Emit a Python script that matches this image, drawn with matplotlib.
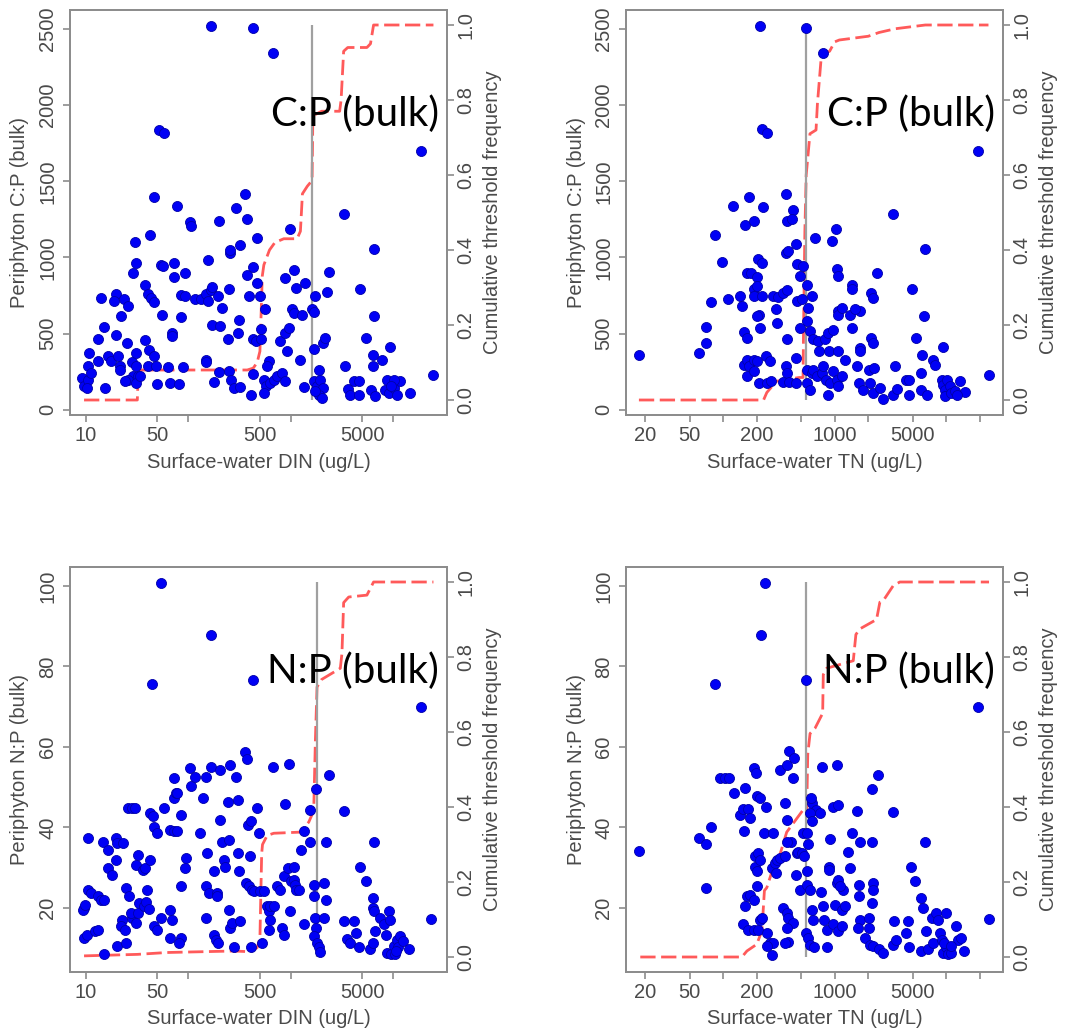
import matplotlib
matplotlib.use("Agg")
import matplotlib.pyplot as plt
from matplotlib.ticker import NullLocator

plt.rcParams['font.family'] = ['Liberation Sans', 'DejaVu Sans']

# ---- Data: DIN vs C:P (top left) ----
din_cp_x = [165, 430, 673, 52, 58, 18500, 24700, 46, 78, 105,
            106, 200, 290, 355, 376, 465, 975, 42, 30, 31,
            29, 38, 40, 43, 46, 54, 56, 72, 72, 93,
            84, 93, 55, 85, 69, 70, 38, 41, 46, 40,
            48, 50, 66, 82, 89, 64, 14, 19.8, 19, 23.6,
            25.5, 22, 19.8, 15.1, 13, 25, 10.8, 13, 16.5, 17.5,
            20.6, 21.5, 21.5, 28, 30.6, 31, 29, 32.5, 26, 24,
            31, 9.2, 9.6, 10.4, 10.6, 11.2, 10.2, 15.3, 34, 155,
            116, 132, 150, 165, 172, 155, 197, 214, 248, 258,
            254, 318, 315, 308, 376, 390, 430, 470, 430, 455,
            515, 507, 500, 560, 245, 172, 206, 150, 150, 200,
            178, 248, 260, 278, 323, 405, 430, 610, 588, 546,
            567, 546, 625, 683, 736, 822, 887, 782, 870, 1070,
            1120, 880, 955, 1030, 1070, 1290, 1390, 1615, 1675, 1740,
            2259, 2350, 2060, 2180, 921, 1242, 1360, 1675, 1880, 1675,
            1805, 1946, 2060, 1900, 2000, 1740, 3282, 3350, 3590, 3811,
            4107, 4600, 4600, 4769, 5400, 6431, 6540, 6300, 6350, 7750,
            6100, 6700, 9345, 8672, 8350, 9000, 10070, 10851, 11693, 14600,
            10200, 9500]
din_cp_y = [2522, 2507, 2340, 1838, 1820, 1700, 226, 1400, 1338, 1232,
            1206, 1239, 1325, 1414, 1250, 1129, 1189, 1147, 1101, 965,
            899, 816, 757, 735, 706, 947, 943, 965, 870, 895,
            750, 746, 625, 607, 504, 487, 456, 395, 351, 290,
            285, 169, 175, 169, 279, 279, 735, 761, 713, 728,
            684, 614, 493, 542, 461, 439, 373, 318, 351, 322,
            351, 285, 259, 314, 373, 290, 219, 219, 197, 191,
            175, 208, 154, 197, 285, 241, 143, 143, 219, 980,
            724, 724, 757, 785, 807, 713, 746, 669, 790, 1031,
            1048, 1081, 586, 504, 882, 746, 936, 833, 461, 450,
            531, 461, 746, 664, 467, 559, 552, 329, 310, 246,
            182, 257, 197, 143, 149, 99, 237, 318, 285, 197,
            154, 110, 175, 197, 219, 241, 186, 454, 866, 917,
            800, 504, 537, 658, 636, 625, 833, 658, 640, 746,
            772, 904, 439, 471, 384, 329, 149, 399, 263, 186,
            154, 197, 143, 99, 77, 121, 1283, 285, 136, 99,
            186, 186, 99, 790, 471, 1057, 614, 362, 285, 329,
            132, 88, 412, 197, 132, 110, 143, 99, 186, 110,
            197, 154]
din_cp_cdf_x = [9.6, 31.8, 32.5, 376, 430, 470, 500, 515, 527, 546, 620, 700,
                855, 1153, 1242, 1300, 1450, 1555, 1615, 1640, 1700, 2000,
                3000, 3100, 3282, 3600, 5538, 6000, 6431, 24700]
din_cp_cdf_y = [0, 0, 0.08, 0.08, 0.085, 0.1, 0.13, 0.24, 0.33, 0.36, 0.40, 0.42,
                0.43, 0.43, 0.45, 0.55, 0.57, 0.58, 0.59, 0.74, 0.76, 0.77,
                0.77, 0.80, 0.93, 0.94, 0.94, 0.95, 1.0, 1.0]

# ---- Data: TN vs C:P (top right) ----
tn_cp_x = [214, 550, 780, 222, 246, 19500, 24270, 17.7, 60, 70,
           70, 78, 85, 98, 110, 123, 140, 148, 153, 165,
           157, 170, 190, 227, 165, 177, 200, 205, 222, 187,
           200, 187, 222, 210, 200, 214, 152, 163, 170, 187,
           200, 165, 187, 210, 243, 263, 246, 267, 282, 297,
           306, 312, 347, 371, 365, 384, 375, 365, 375, 371,
           420, 418, 368, 450, 445, 347, 393, 445, 463, 489,
           520, 456, 505, 561, 622, 580, 568, 600, 489, 643,
           713, 819, 720, 883, 877, 972, 561, 620, 561, 600,
           643, 689, 762, 791, 834, 865, 907, 972, 1041, 1077,
           1155, 1077, 1237, 670, 940, 1020, 1041, 1060, 1060, 1077,
           1155, 1420, 1440, 1371, 1420, 1684, 1684, 1684, 1520, 2100,
           2217, 2400, 2130, 2217, 2040, 2250, 1600, 1650, 1804, 2070,
           2217, 2543, 2724, 3349, 3460, 3650, 3349, 4408, 4600, 4650,
           4900, 5418, 6430, 6350, 6050, 5900, 5900, 6800, 7640, 8000,
           9391, 9100, 9391, 9700, 10200, 10775, 9850, 11150, 11900, 13400,
           14700, 12500]
tn_cp_y = [2522, 2507, 2340, 1842, 1820, 1700, 226, 357, 373, 439,
           544, 708, 1147, 971, 724, 1336, 746, 684, 509, 471,
           1211, 1400, 1239, 1334, 899, 895, 873, 987, 965, 790,
           811, 746, 746, 625, 614, 537, 296, 329, 285, 329,
           318, 219, 252, 175, 351, 318, 175, 186, 746, 662,
           570, 741, 768, 783, 1031, 1042, 467, 285, 241, 1239,
           1311, 1250, 1414, 1090, 340, 180, 180, 175, 954, 877,
           943, 713, 724, 822, 746, 669, 581, 515, 537, 461,
           450, 461, 384, 384, 504, 520, 263, 241, 175, 132,
           263, 219, 241, 285, 197, 99, 175, 252, 197, 154,
           219, 384, 329, 1129, 1107, 1184, 921, 877, 647, 625,
           669, 822, 790, 625, 537, 406, 384, 647, 658, 768,
           735, 899, 471, 439, 263, 274, 285, 175, 132, 175,
           110, 143, 70, 99, 285, 136, 1283, 197, 197, 99,
           790, 471, 1057, 614, 362, 241, 127, 99, 329, 296,
           412, 197, 164, 132, 197, 154, 88, 110, 121, 186,
           114, 99]
tn_cp_cdf_x = [17.5, 230, 246, 300, 480, 520, 525, 540, 555, 600, 680, 700,
               760, 900, 1000, 1100, 2000, 2500, 3500, 6500, 24000]
tn_cp_cdf_y = [0, 0, 0.02, 0.05, 0.06, 0.06, 0.18, 0.45, 0.6, 0.71, 0.72, 0.79,
               0.92, 0.93, 0.955, 0.96, 0.97, 0.98, 0.99, 1.0, 1.0]

# ---- Data: DIN vs N:P (bottom left) ----
din_np_x = [54, 165, 44, 430, 18500, 23500, 9.5, 9.3, 9.8, 10.5,
            9.6, 10.2, 10.5, 11.2, 12.3, 13, 13.2, 14, 15.1, 15.1,
            14.8, 16.3, 16.5, 18.1, 19.6, 20.3, 23, 19.8, 20.3, 22.6,
            21.9, 24, 24.5, 26.4, 24.8, 25.5, 28, 30.5, 28, 30.6,
            27.4, 30.6, 32.4, 32, 33, 37, 39, 41.6, 39.9, 36,
            38, 42, 42, 45, 46.5, 50, 58, 46, 50, 54,
            66, 70, 66, 72.5, 75, 78, 73, 67, 72.5, 78,
            84, 84, 81, 85, 92, 94, 105, 106, 116, 131,
            139, 150, 152, 148, 150, 158, 165, 178, 185, 196,
            178, 190, 192, 203, 206, 214, 223, 226, 245, 248,
            250, 258, 278, 258, 267, 289, 308, 308, 312, 323,
            357, 376, 380, 398, 410, 365, 390, 420, 436, 470,
            405, 485, 500, 527, 546, 588, 610, 634, 610, 625,
            683, 673, 736, 793, 822, 855, 855, 870, 933, 965,
            993, 1010, 1070, 1110, 1130, 1215, 1070, 1265, 1350, 1350,
            1555, 1555, 1780, 1675, 1675, 1740, 1780, 1675, 1805, 1880,
            1946, 2100, 2100, 2210, 2210, 2350, 3282, 3282, 3537, 3811,
            4107, 4370, 4600, 4769, 5400, 5968, 6350, 6431, 6300, 6300,
            6540, 6700, 7468, 8047, 8450, 9000, 9345, 8672, 9500, 10400,
            10070, 10851, 11693, 11100, 10700, 12600, 14400]
din_np_y = [100.7, 87.8, 75.6, 76.6, 70, 17.3, 20, 19.6, 20.8, 37.4,
            12.6, 13.4, 24.5, 23.7, 14.2, 14.5, 23.1, 22.1, 22.1, 8.5,
            36.3, 34.5, 29.9, 28.3, 37.4, 36.1, 36.1, 32, 10.5, 17.1,
            15.5, 14.6, 25, 22.9, 11.3, 44.8, 44.8, 44.8, 17.5, 16.3,
            18.8, 30.7, 33.2, 18.8, 21.2, 20.4, 21.4, 19.8, 24.5, 29.5,
            29.9, 32, 43.6, 42.8, 40.2, 38.6, 44.8, 15.5, 14.6, 17.5,
            19.6, 17.1, 12.6, 47.3, 48.5, 48.5, 52.2, 39.4, 39, 39,
            43.1, 12.6, 11.3, 25.4, 29.9, 32.4, 54.7, 50.2, 52.6, 38.6,
            47.3, 52.6, 33.6, 25.4, 17.5, 23.7, 55, 13.4, 12.1, 11.3,
            29.1, 23.7, 22.9, 54.3, 41.9, 36.5, 32, 30.3, 46.4, 36.9,
            19.6, 55.5, 10.2, 15, 16.3, 52.6, 46.9, 33.6, 29.1, 16.7,
            58.8, 57, 40.6, 32.8, 41.5, 26.2, 25.4, 24.5, 24.1, 44.8,
            10.2, 38.6, 24.1, 11.3, 24.1, 20.4, 19.2, 20.4, 14.6, 17.1,
            20.4, 55.1, 25.4, 24.5, 15, 13.4, 27.9, 45.9, 29.9, 55.7,
            19.2, 26.6, 27, 25.8, 24.5, 24.5, 30.3, 34.5, 15.9, 39,
            36.3, 44.4, 49.5, 25.8, 22.9, 17.5, 15, 13, 11.3, 10.2,
            9, 26.2, 17.5, 22.1, 36.3, 53, 44, 16.7, 12.3, 11.3,
            16.7, 13.8, 10.2, 30.3, 26.6, 9.7, 11.3, 36.3, 22.6, 20,
            19.2, 14.4, 17.5, 15.9, 13.4, 19.2, 17.1, 8.8, 8.5, 8.5,
            10.5, 12.1, 13, 10.2, 9.3, 11.7, 9.7]
din_np_cdf_x = [9.6, 31.8, 62, 132, 278, 405, 470, 500, 520, 530, 588, 683,
                1242, 1500, 1675, 1740, 1805, 2000, 3046, 3160, 3282, 3680,
                5538, 6431, 24700]
din_np_cdf_y = [0.003, 0.007, 0.012, 0.014, 0.016, 0.014, 0.025, 0.05, 0.275, 0.30,
                0.324, 0.33, 0.333, 0.36, 0.39, 0.58, 0.72, 0.74, 0.77, 0.81,
                0.945, 0.96, 0.965, 1.0, 1.0]

# ---- Data: TN vs N:P (bottom right) ----
tn_np_x = [235, 218, 85, 550, 19500, 24270, 17.7, 60, 70, 78,
           70, 94, 104, 112, 125, 140, 150, 168, 158, 153,
           175, 190, 196, 200, 214, 243, 150, 168, 187, 205,
           214, 222, 157, 163, 175, 187, 200, 193, 193, 205,
           200, 214, 230, 246, 263, 276, 282, 246, 282, 276,
           293, 306, 324, 359, 297, 324, 371, 393, 430, 426,
           356, 375, 409, 371, 347, 371, 384, 420, 375, 384,
           356, 445, 456, 472, 524, 561, 505, 530, 489, 561,
           601, 630, 613, 680, 601, 630, 580, 561, 550, 580,
           601, 650, 622, 643, 770, 738, 760, 791, 810, 847,
           860, 895, 895, 907, 960, 1041, 1060, 1041, 1060, 1005,
           972, 1077, 1155, 1194, 1115, 1155, 1237, 1325, 1371, 1440,
           1573, 1684, 1650, 1650, 1684, 1630, 1870, 2070, 2150, 2150,
           2217, 2217, 2150, 2040, 2040, 2450, 2217, 2490, 2724, 3349,
           3420, 3349, 3587, 4560, 4408, 4600, 4800, 5300, 5950, 6000,
           6216, 6430, 6659, 7400, 6900, 7640, 8184, 8480, 8767, 9100,
           9391, 9900, 10059, 10400, 9500, 11150, 12363, 12800, 13700, 14400,
           11000]
tn_np_y = [100.7, 87.8, 75.6, 76.6, 70, 17.3, 34.2, 37.4, 36, 40.1,
           25, 52.2, 52.2, 52.2, 48.5, 43.1, 44.7, 44.6, 49.7, 39.2,
           42.3, 54.7, 53.5, 47.7, 47.3, 45, 16, 14.6, 14.6, 14.6,
           17.1, 17.5, 20.4, 22.9, 23.3, 22.1, 25.4, 30.3, 32.8, 33.6,
           29.1, 32, 38.6, 13.8, 11.3, 8.2, 11.3, 10.5, 38.6, 29.9,
           31.1, 32, 32.4, 32.8, 28.7, 54.3, 55.5, 59, 57.2, 52.4,
           46.2, 41.9, 36.5, 36.5, 20, 18.8, 17.5, 16.3, 15, 11.6,
           11.3, 28.3, 33.6, 33.9, 38.6, 38.6, 33.6, 32.8, 24.5, 25.8,
           24.4, 46, 47.3, 44.4, 43.6, 41.5, 36, 29.2, 13.8, 12.6,
           10.9, 10.2, 19.6, 17.1, 55.1, 43.6, 23.9, 20.4, 17.1, 14.6,
           10.2, 30.3, 29.5, 37.1, 45, 55.5, 45.6, 26.2, 27, 20.8,
           15.9, 14.2, 19.6, 24.5, 25.4, 15.5, 20.4, 34, 29.9, 38.6,
           44, 36.3, 25.8, 22.9, 17.1, 15, 12.6, 10.9, 49.5, 36.3,
           26.2, 24.5, 21.2, 17.5, 15, 53, 10.5, 9.7, 8.8, 43.8,
           16.7, 10.9, 12.1, 16.7, 13.8, 10.2, 30.3, 26.6, 9.3, 22.6,
           20, 36.3, 14.4, 17.5, 9.7, 11.3, 18.8, 17.1, 13.8, 12.1,
           8.8, 18.8, 10.2, 8.5, 11.3, 8.8, 15.5, 12.1, 12.6, 9.3,
           10.5]
tn_np_cdf_x = [18, 147, 163, 200, 222, 230, 234, 246, 282, 324, 371, 456, 514,
               561, 573, 601, 666, 780, 790, 847, 1115, 1468, 1550, 1684,
               2070, 2375, 2543, 2724, 3349, 3842, 24270]
tn_np_cdf_y = [0, 0, 0.016, 0.034, 0.07, 0.14, 0.177, 0.185, 0.24, 0.275, 0.333,
               0.369, 0.39, 0.39, 0.54, 0.596, 0.61, 0.65, 0.753, 0.77, 0.78,
               0.79, 0.86, 0.875, 0.89, 0.90, 0.946, 0.95, 0.99, 1.0, 1.0]

# thresholds (gray vertical lines)
din_cp_thr = 1600
tn_cp_thr = 550
din_np_thr = 1800
tn_np_thr = 550

din_ticks = [10, 50, 100, 500, 1000, 5000, 10000]
din_labels = ['10', '50', '', '500', '', '5000', '']
tn_ticks = [20, 50, 100, 200, 500, 1000, 2000, 5000, 10000, 20000]
tn_labels = ['20', '50', '', '200', '', '1000', '', '5000', '', '']
cp_ticks = [0, 500, 1000, 1500, 2000, 2500]
np_ticks = [20, 40, 60, 80, 100]
cdf_ticks = [0.0, 0.2, 0.4, 0.6, 0.8, 1.0]

W, H = 1080, 1034
fig = plt.figure(figsize=(W / 100, H / 100), dpi=100)

GRAY = '#8c8c8c'
TXT = '#4a4a4a'
FS = 14.5


def draw_panel(left, top, x, y, cx, cy, thr, xticks, xlabels, xlim,
               yticks, ylim, ylabel, xlabel, tag):
    w, h = 377, 405
    rect = [left / W, 1 - (top + h) / H, w / W, h / H]
    ax = fig.add_axes(rect)
    ax2 = ax.twinx()
    # points drawn above the cdf line
    ax.set_zorder(ax2.get_zorder() + 1)
    ax.patch.set_visible(False)

    ax.scatter(x, y, s=52, c='#0000f5', edgecolors='#0000a8',
               linewidths=0.6, zorder=3)
    ax.set_xscale('log')
    ax.set_xlim(*xlim)
    ax.set_ylim(*ylim)
    ax.set_xticks(xticks)
    ax.set_xticklabels(xlabels)
    ax.xaxis.set_minor_locator(NullLocator())
    ax.set_yticks(yticks)
    ax.set_yticklabels([str(v) for v in yticks], rotation=90, va='center')

    ax2.plot(cx, cy, color='#ff5a5a', lw=2.0, ls=(0, (5.5, 2)))
    ax2.vlines(thr, 0, 1, color='#a0a0a0', lw=1.6)
    ax2.set_ylim(-0.04, 1.04)
    ax2.set_yticks(cdf_ticks)
    ax2.set_yticklabels(['%.1f' % v for v in cdf_ticks], rotation=90,
                        va='center')

    for a in (ax, ax2):
        for s in a.spines.values():
            s.set_color(GRAY)
            s.set_linewidth(1.3)
        a.tick_params(colors=GRAY, labelcolor=TXT, labelsize=FS,
                      length=5, width=1.2, direction='out')
    ax.tick_params(axis='y', pad=4)
    ax.tick_params(axis='x', pad=3)
    ax2.tick_params(axis='y', pad=2)

    fig.text((left - 50) / W, 1 - (top + h / 2) / H, ylabel, rotation=90,
             ha='center', va='center', fontsize=FS, color=TXT)
    fig.text((left + w + 46) / W, 1 - (top + h / 2) / H,
             'Cumulative threshold frequency', rotation=90,
             ha='center', va='center', fontsize=FS, color=TXT)
    fig.text((left + w / 2) / W, 1 - (top + h + 47) / H, xlabel,
             ha='center', va='center', fontsize=FS, color=TXT)
    fig.text((left + w - 8) / W, 1 - (top + 104) / H, tag, ha='right',
             va='center', fontsize=29, color='black',
             family=['Lato', 'DejaVu Sans'])


draw_panel(70, 10, din_cp_x, din_cp_y, din_cp_cdf_x, din_cp_cdf_y, din_cp_thr,
           din_ticks, din_labels, (7.0, 33500), cp_ticks, (-35, 2625),
           'Periphyton C:P (bulk)', 'Surface-water DIN (ug/L)', 'C:P (bulk)')
draw_panel(626, 10, tn_cp_x, tn_cp_y, tn_cp_cdf_x, tn_cp_cdf_y, tn_cp_thr,
           tn_ticks, tn_labels, (13.4, 32400), cp_ticks, (-35, 2625),
           'Periphyton C:P (bulk)', 'Surface-water TN (ug/L)', 'C:P (bulk)')
draw_panel(70, 567, din_np_x, din_np_y, din_np_cdf_x, din_np_cdf_y, din_np_thr,
           din_ticks, din_labels, (7.0, 33500), np_ticks, (4.1, 104.7),
           'Periphyton N:P (bulk)', 'Surface-water DIN (ug/L)', 'N:P (bulk)')
draw_panel(626, 567, tn_np_x, tn_np_y, tn_np_cdf_x, tn_np_cdf_y, tn_np_thr,
           tn_ticks, tn_labels, (13.4, 32400), np_ticks, (4.1, 104.7),
           'Periphyton N:P (bulk)', 'Surface-water TN (ug/L)', 'N:P (bulk)')

fig.savefig('out.png', dpi=100)
